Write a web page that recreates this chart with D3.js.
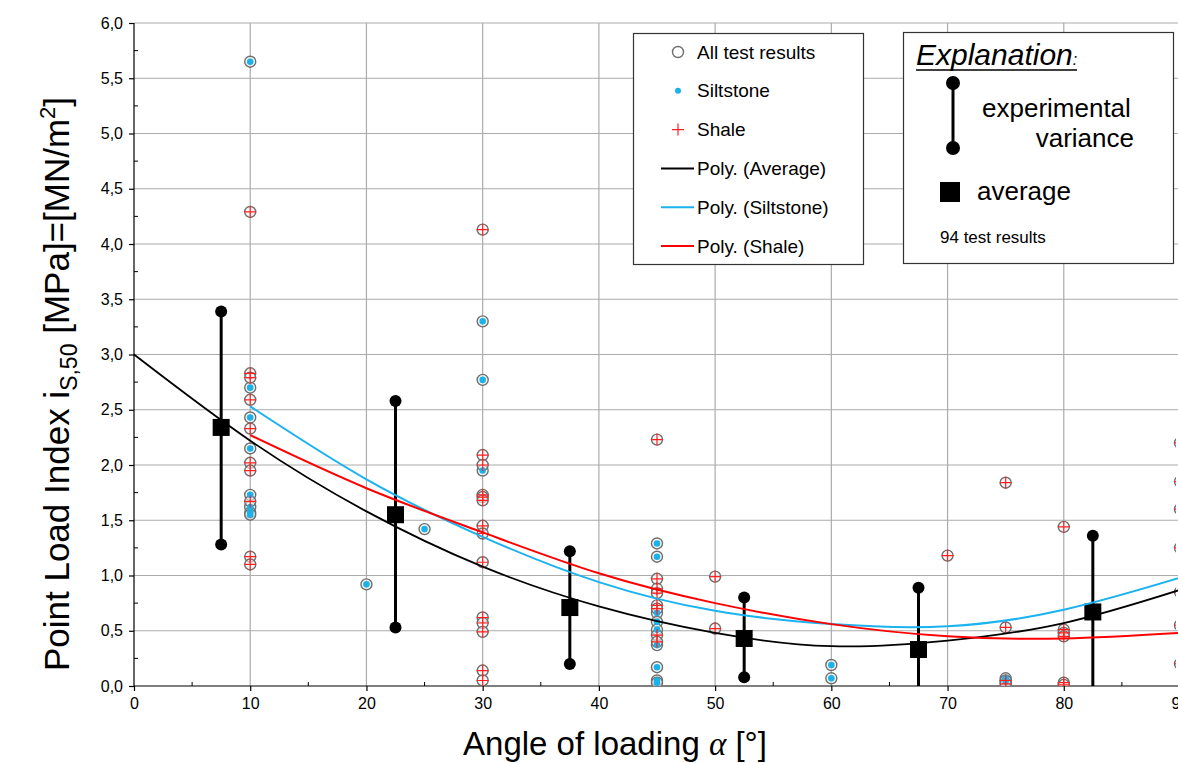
<!DOCTYPE html>
<html>
<head>
<meta charset="utf-8">
<script src="https://cdn.jsdelivr.net/npm/d3@7"></script>
<style>
	body { margin: 0; background: #fff; }
	text { font-family: "Liberation Sans", Arial, sans-serif; fill: #000; }
</style>
</head>
<body>
<div id="chart"></div>
<script>
// siltstone results [angle, value]
var siltX = [10, 10, 10, 10, 10, 10, 10, 10, 20, 25, 30, 30, 30, 45, 45, 45, 45, 45, 45, 45, 45, 45, 60, 60, 75, 75]
var siltY = [5.65, 2.70, 2.43, 2.15, 1.73, 1.62, 1.57, 1.55, 0.92, 1.42, 3.30, 2.77, 1.95, 1.29, 1.17, 0.66, 0.58, 0.51, 0.37, 0.17, 0.05, 0.03, 0.19, 0.07, 0.07, 0.04]
// shale results [angle, value]
var shaleX = [10, 10, 10, 10, 10, 10, 10, 10, 10, 10,
	30, 30, 30, 30, 30, 30, 30, 30, 30, 30, 30, 30, 30, 30,
	45, 45, 45, 45, 45, 45, 45, 45, 50, 50, 70, 75, 75, 75, 75,
	80, 80, 80, 80, 80, 80, 90, 90, 90, 90, 90, 90, 90]
var shaleY = [4.29, 2.83, 2.79, 2.59, 2.33, 2.02, 1.95, 1.67, 1.17, 1.10,
	4.13, 2.09, 2.00, 1.73, 1.71, 1.68, 1.45, 1.38, 1.12, 0.62, 0.57, 0.49, 0.14, 0.05,
	2.23, 0.97, 0.88, 0.84, 0.73, 0.70, 0.46, 0.40, 0.99, 0.52, 1.18, 1.84, 0.53, 0.05, 0.02,
	1.44, 0.51, 0.48, 0.45, 0.03, 0.01, 2.20, 1.85, 1.60, 1.25, 0.85, 0.55, 0.20]

// averages and experimental variance
var errX = [7.5, 22.5, 37.5, 52.5, 67.5, 82.5]
var errMin = [1.28, 0.53, 0.20, 0.08, -0.1, -0.1]
var errMax = [3.39, 2.58, 1.22, 0.80, 0.89, 1.36]
var avgY = [2.34, 1.55, 0.71, 0.43, 0.33, 0.67]

// trend lines
var avgLineX = [0, 10, 20, 30, 40, 50, 60, 70, 80, 90]
var avgLineY = [3.0, 2.22, 1.58, 1.08, 0.72, 0.48, 0.36, 0.41, 0.57, 0.87]
var siltLineX = [10, 20, 30, 40, 50, 60, 70, 80, 90]
var siltLineY = [2.53, 1.87, 1.35, 0.94, 0.68, 0.56, 0.54, 0.69, 0.98]
var shaleLineX = [10, 20, 30, 40, 50, 60, 70, 80, 90]
var shaleLineY = [2.27, 1.79, 1.39, 1.02, 0.75, 0.56, 0.45, 0.43, 0.48]

var xTicks = [0, 10, 20, 30, 40, 50, 60, 70, 80, 90]
var yTicks = [0, 0.5, 1, 1.5, 2, 2.5, 3, 3.5, 4, 4.5, 5, 5.5, 6]

var legendLabels = ["All test results", "Siltstone", "Shale", "Poly. (Average)", "Poly. (Siltstone)", "Poly. (Shale)"]

var W = 1178, H = 763
var svg = d3.select("#chart").append("svg")
	.attr("width", W)
	.attr("height", H)

var x = d3.scaleLinear().domain([0, 90]).range([134, 1180])
var y = d3.scaleLinear().domain([0, 6]).range([686, 23])
var fmt = function (d) { return d3.format(".1f")(d).replace(".", ",") }

svg.append("defs").append("clipPath").attr("id", "plotClip")
	.append("rect")
	.attr("x", x(0)).attr("y", y(6))
	.attr("width", 1176 - x(0)).attr("height", y(0) - y(6))

// grid
var grid = svg.append("g")
grid.selectAll(".vg").data(xTicks.slice(1)).enter().append("line")
	.attr("x1", d => x(d)).attr("x2", d => x(d))
	.attr("y1", y(0)).attr("y2", y(6))
	.attr("stroke", "#ababab").attr("stroke-width", 1.2)
grid.selectAll(".hg").data(yTicks.slice(1)).enter().append("line")
	.attr("x1", x(0)).attr("x2", x(90))
	.attr("y1", d => y(d)).attr("y2", d => y(d))
	.attr("stroke", "#ababab").attr("stroke-width", 1.2)

// axes
var xAxis = d3.axisBottom(x).tickValues(xTicks).tickSize(5).tickPadding(7).tickFormat(d3.format("d"))
var gx = svg.append("g").attr("transform", "translate(0," + y(0) + ")").call(xAxis)
gx.selectAll("text").style("font-size", "16px")
var yAxis = d3.axisLeft(y).tickValues(yTicks).tickSize(5).tickPadding(6).tickFormat(fmt)
var gy = svg.append("g").attr("transform", "translate(" + x(0) + ",0)").call(yAxis)
gy.selectAll("text").style("font-size", "16px")
gx.select(".domain").attr("d", "M" + x(0) + ",0H" + x(90))
gy.select(".domain").attr("d", "M0," + y(0) + "V" + y(6))
svg.selectAll(".domain, .tick line").attr("stroke", "#000").attr("stroke-width", 1.2)

// minor ticks
svg.append("g").selectAll("line").data(d3.range(5, 90, 10)).enter().append("line")
	.attr("x1", d => x(d)).attr("x2", d => x(d))
	.attr("y1", y(0)).attr("y2", y(0) - 4)
	.attr("stroke", "#000")
svg.append("g").selectAll("line").data(d3.range(0.25, 6, 0.5)).enter().append("line")
	.attr("x1", x(0)).attr("x2", x(0) + 4)
	.attr("y1", d => y(d)).attr("y2", d => y(d))
	.attr("stroke", "#000")

var plot = svg.append("g").attr("clip-path", "url(#plotClip)")

var silt = siltX.map((d, i) => [d, siltY[i]])
var shale = shaleX.map((d, i) => [d, shaleY[i]])
var all = silt.concat(shale)

// all test results
plot.append("g").selectAll("circle").data(all).enter().append("circle")
	.attr("cx", d => x(d[0])).attr("cy", d => y(d[1]))
	.attr("r", 5.5)
	.attr("fill", "#f4f4f4")
	.attr("fill-opacity", 0.6)
	.attr("stroke", "#6e6e6e")
	.attr("stroke-width", 1.4)
plot.append("g").selectAll("circle").data(silt).enter().append("circle")
	.attr("cx", d => x(d[0])).attr("cy", d => y(d[1]))
	.attr("r", 3.3)
	.attr("fill", "#1ab2e8")
plot.append("g").selectAll("path").data(shale).enter().append("path")
	.attr("d", d => "M" + (x(d[0]) - 6) + "," + y(d[1]) + "h12M" + x(d[0]) + "," + (y(d[1]) - 6) + "v12")
	.attr("stroke", "#ff2020")
	.attr("stroke-width", 1.2)

// trend lines
var line = d3.line().x(d => x(d[0])).y(d => y(d[1])).curve(d3.curveNatural)
var trends = [
	{ xs: avgLineX, ys: avgLineY, c: "#000", w: 1.8 },
	{ xs: siltLineX, ys: siltLineY, c: "#1ab2ef", w: 2 },
	{ xs: shaleLineX, ys: shaleLineY, c: "#ff0000", w: 2 }
]
svg.append("g").selectAll(".trend").data(trends).enter().append("path")
	.attr("d", t => line(t.xs.map((d, i) => [d, t.ys[i]])))
	.attr("fill", "none")
	.attr("stroke", t => t.c)
	.attr("stroke-width", t => t.w)

// variance bars and averages
var eb = plot.append("g").selectAll("g").data(errX).enter().append("g")
eb.append("line")
	.attr("x1", d => x(d)).attr("x2", d => x(d))
	.attr("y1", (d, i) => y(errMin[i])).attr("y2", (d, i) => y(errMax[i]))
	.attr("stroke", "#000").attr("stroke-width", 3)
eb.append("circle").attr("cx", d => x(d)).attr("cy", (d, i) => y(errMin[i])).attr("r", 6)
eb.append("circle").attr("cx", d => x(d)).attr("cy", (d, i) => y(errMax[i])).attr("r", 6)
eb.append("rect")
	.attr("x", d => x(d) - 8.5).attr("y", (d, i) => y(avgY[i]) - 8.5)
	.attr("width", 17).attr("height", 17)
	.attr("fill", "#000")

// axis titles
var yt = svg.append("text")
	.attr("transform", "translate(69,384) rotate(-90)")
	.attr("text-anchor", "middle")
	.style("font-size", "35px")
yt.append("tspan").text("Point Load Index i")
yt.append("tspan").attr("dy", 8).style("font-size", "23px").text("S,50")
yt.append("tspan").attr("dy", -8).text(" [MPa]=[MN/m")
yt.append("tspan").attr("dy", -14).style("font-size", "22px").text("2")
yt.append("tspan").attr("dy", 14).text("]")

var xt = svg.append("text")
	.attr("x", 615).attr("y", 755)
	.attr("text-anchor", "middle")
	.style("font-size", "33px")
xt.append("tspan").text("Angle of loading ")
xt.append("tspan").style("font-family", "'Liberation Serif', serif").style("font-style", "italic").text("α")
xt.append("tspan").text(" [°]")

// legend
var lg = svg.append("g")
lg.append("rect").attr("x", 633.5).attr("y", 33.5).attr("width", 230).attr("height", 231)
	.attr("fill", "#fff").attr("stroke", "#333").attr("stroke-width", 1.2)
var rowY = d3.scalePoint().domain(legendLabels).range([52, 246])
lg.selectAll("text").data(legendLabels).enter().append("text")
	.attr("x", 697).attr("y", d => rowY(d))
	.attr("dy", "0.35em")
	.style("font-size", "19px")
	.text(d => d)
lg.append("circle").attr("cx", 678).attr("cy", rowY(legendLabels[0])).attr("r", 5.5)
	.attr("fill", "#fff").attr("stroke", "#6e6e6e").attr("stroke-width", 1.4)
lg.append("circle").attr("cx", 678).attr("cy", rowY(legendLabels[1])).attr("r", 3).attr("fill", "#1ab2e8")
lg.append("path").attr("d", "M672," + rowY(legendLabels[2]) + "h12M678," + (rowY(legendLabels[2]) - 6) + "v12")
	.attr("stroke", "#ff2020").attr("stroke-width", 1.2)
trends.forEach(function (t, i) {
	lg.append("line").attr("x1", 661).attr("x2", 694)
		.attr("y1", rowY(legendLabels[i + 3])).attr("y2", rowY(legendLabels[i + 3]))
		.attr("stroke", t.c).attr("stroke-width", 2)
})

// explanation box
var ex = svg.append("g")
ex.append("rect").attr("x", 903.5).attr("y", 32.5).attr("width", 270).attr("height", 231)
	.attr("fill", "#fff").attr("stroke", "#333").attr("stroke-width", 1.2)
var et = ex.append("text").attr("x", 916).attr("y", 65).style("font-size", "30px").style("font-style", "italic")
et.append("tspan").text("Explanation")
et.append("tspan").style("font-size", "16px").text(":")
ex.append("line").attr("x1", 916).attr("x2", 1077).attr("y1", 70).attr("y2", 70)
	.attr("stroke", "#000").attr("stroke-width", 1.6)
ex.append("line").attr("x1", 953).attr("x2", 953).attr("y1", 83).attr("y2", 148)
	.attr("stroke", "#000").attr("stroke-width", 3)
ex.append("circle").attr("cx", 953).attr("cy", 83).attr("r", 7)
ex.append("circle").attr("cx", 953).attr("cy", 148).attr("r", 7)
ex.append("text").attr("x", 982).attr("y", 108).attr("dy", "0.35em").style("font-size", "26px").text("experimental")
ex.append("text").attr("x", 1134).attr("y", 138).attr("dy", "0.35em").attr("text-anchor", "end").style("font-size", "26px").text("variance")
ex.append("rect").attr("x", 940).attr("y", 182).attr("width", 20).attr("height", 20).attr("fill", "#000")
ex.append("text").attr("x", 977).attr("y", 191).attr("dy", "0.35em").style("font-size", "26px").text("average")
ex.append("text").attr("x", 940).attr("y", 237).attr("dy", "0.35em").style("font-size", "17px").text("94 test results")
</script>
</body>
</html>
